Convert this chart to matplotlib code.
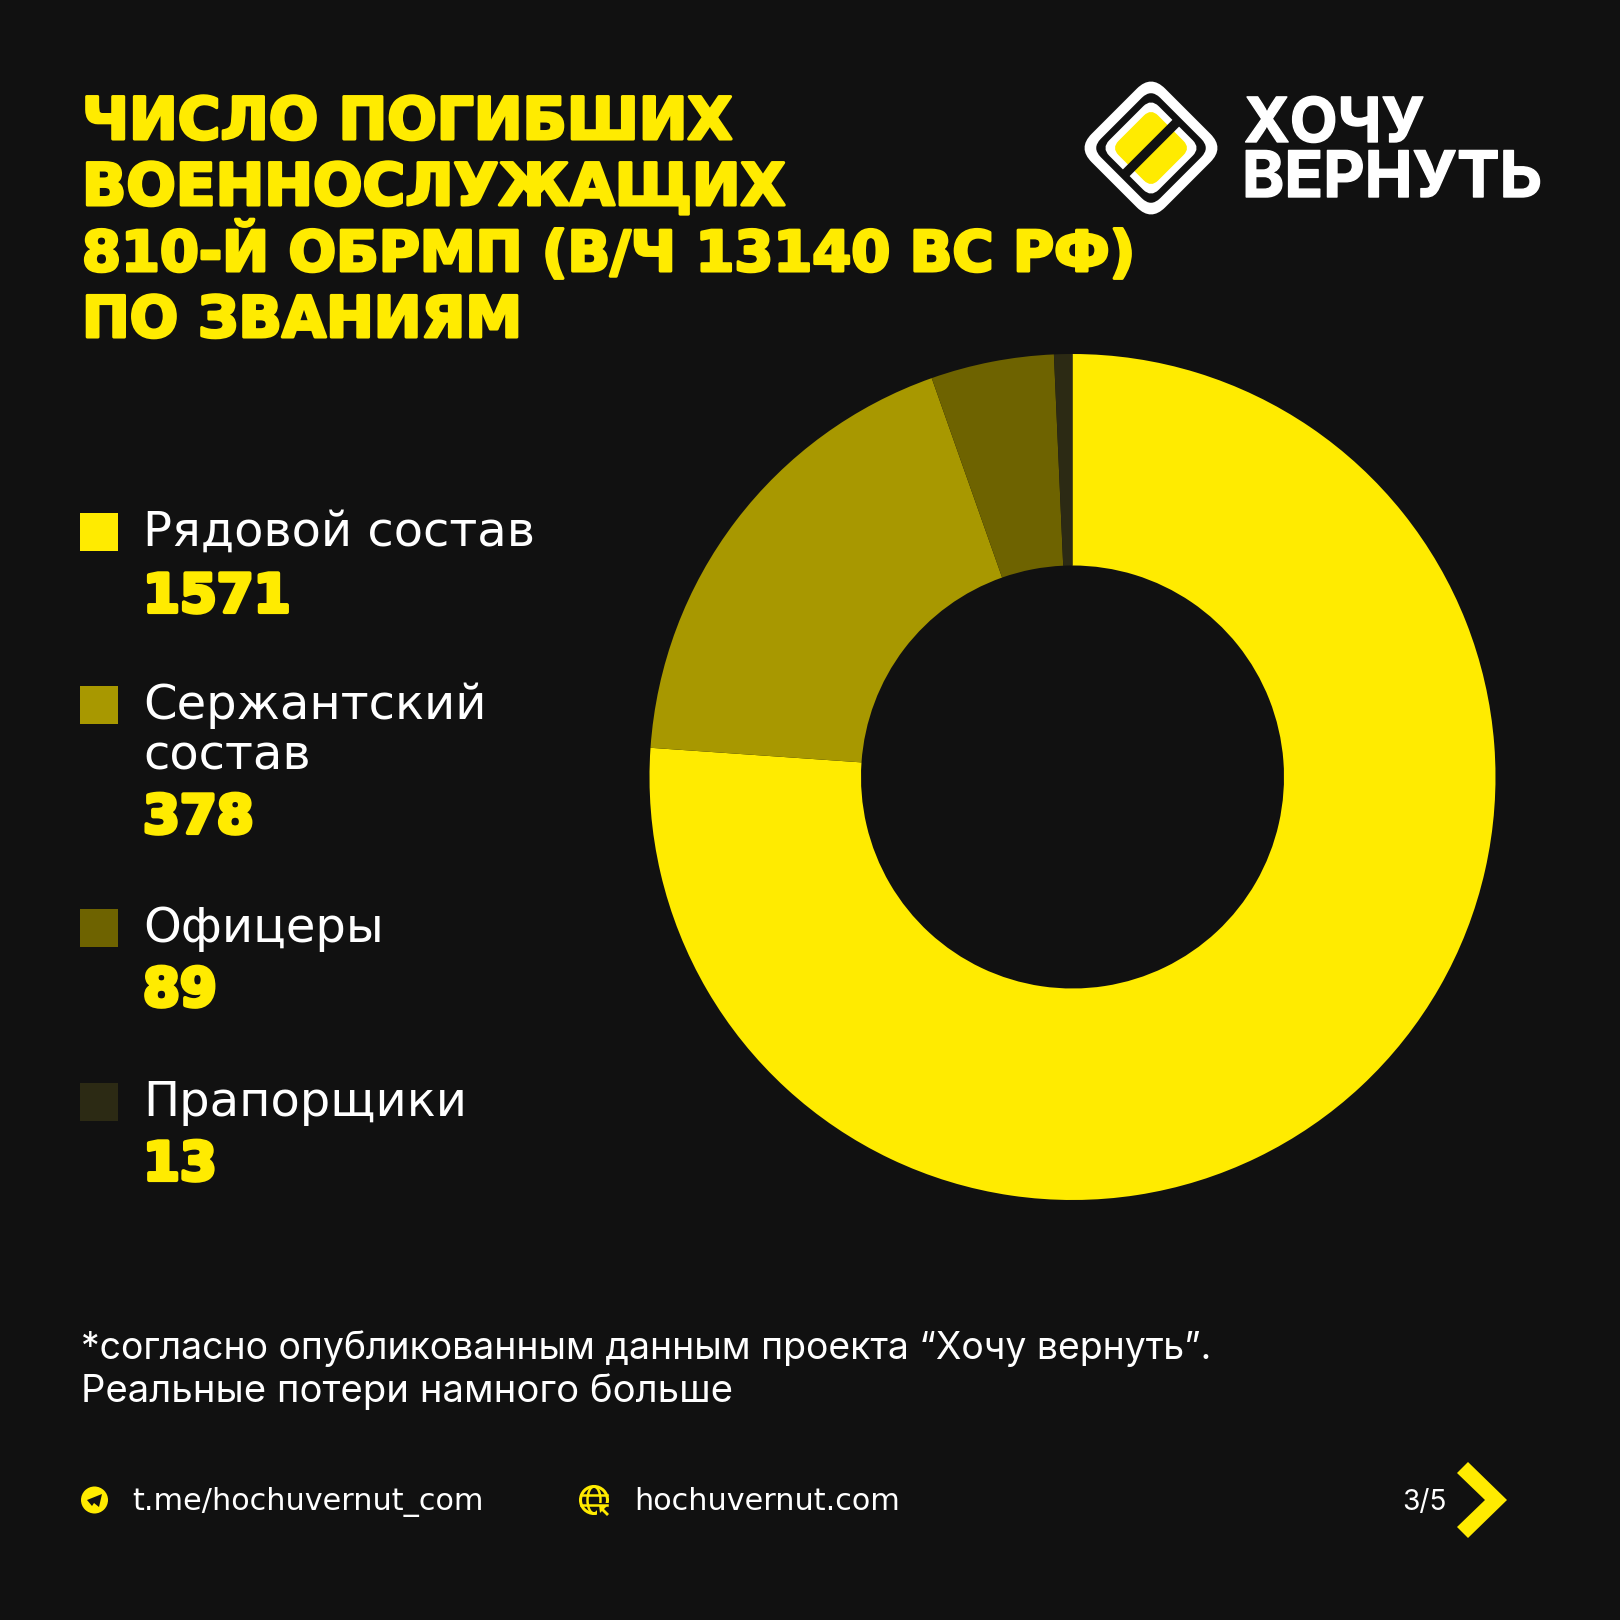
import matplotlib
matplotlib.use('Agg')
import matplotlib.pyplot as plt
import matplotlib.patheffects as pe
from matplotlib.patches import Rectangle, Circle, Ellipse, Polygon, FancyBboxPatch
from matplotlib.transforms import Affine2D

# dane
categories = ['Рядовой состав', 'Сержантский\nсостав', 'Офицеры', 'Прапорщики']
values = [1571, 378, 89, 13]
# udzialy odczytane z wycinkow na rysunku (nie sa dokladnie proporcjonalne do podpisow)
slice_shares = [76.1, 18.5, 4.7, 0.7]
slice_colors = ['#FFEB00', '#A89800', '#6E6300', '#2C2A14']
title_lines = ['ЧИСЛО ПОГИБШИХ', 'ВОЕННОСЛУЖАЩИХ', '810-Й ОБРМП (В/Ч 13140 ВС РФ)', 'ПО ЗВАНИЯМ']
note_lines = ['*согласно опубликованным данным проекта “Хочу вернуть”.', 'Реальные потери намного больше']

BG = '#111111'
YELLOW = '#FFEB00'
S = 1620

fig = plt.figure(figsize=(16.2, 16.2), dpi=100, facecolor=BG)

# donut
cx, cy, r = 1072.5, 777, 423
ax = fig.add_axes([(cx - r) / S, 1 - (cy + r) / S, 2 * r / S, 2 * r / S])
ax.pie(slice_shares, colors=slice_colors, startangle=90, counterclock=False,
       wedgeprops={'width': 0.5, 'linewidth': 0})
ax.set_xlim(-1, 1)
ax.set_ylim(-1, 1)

# warstwa w pikselach
ov = fig.add_axes([0, 0, 1, 1], facecolor='none')
ov.set_xlim(0, S)
ov.set_ylim(S, 0)
ov.axis('off')


def px(size):
    return size * 0.72


title_sizes = [58.2, 58.2, 56, 57]
for i, line in enumerate(title_lines):
    ov.text(82, 139 + i * 66, line, color=YELLOW, fontsize=px(title_sizes[i]), family='DejaVu Sans',
            fontweight='bold', va='baseline', ha='left',
            path_effects=[pe.withStroke(linewidth=2.2, foreground=YELLOW)])

# legenda
square_y = [513, 686, 909, 1083]
value_y = [612, 833, 1006, 1180]
for cat, val, col, sy, vy in zip(categories, values, slice_colors, square_y, value_y):
    ov.add_patch(Rectangle((80, sy), 38, 38, color=col, lw=0))
    for j, part in enumerate(cat.split('\n')):
        ov.text(143, sy + 33 + j * 50, part, color='white', fontsize=px(48), family='DejaVu Sans',
                va='baseline', ha='left')
    ov.text(143, vy, str(val), color=YELLOW, fontsize=px(53), family='DejaVu Sans',
            fontweight='bold', va='baseline', ha='left',
            path_effects=[pe.withStroke(linewidth=3, foreground=YELLOW)])

# przypis
note_sizes = [37.4, 38.3]
for i, line in enumerate(note_lines):
    ov.text(81, 1359 + i * 43, line, color='white', fontsize=px(note_sizes[i]), family='Inter',
            va='baseline', ha='left')

# stopka
ov.add_patch(Circle((94.5, 1500), 13.5, color=YELLOW, lw=0))
ov.add_patch(Polygon([(87, 1500), (102, 1494), (99, 1507), (94, 1503), (92, 1506)], color=BG, lw=0))
ov.text(132, 1510, 't.me/hochuvernut_com', color='white', fontsize=px(30.2), family='DejaVu Sans',
        va='baseline', ha='left')

gx, gy = 594, 1500
ov.add_patch(Circle((gx, gy), 13.5, fill=False, ec=YELLOW, lw=2.2))
ov.add_patch(Ellipse((gx, gy), 13, 27, fill=False, ec=YELLOW, lw=1.8))
ov.plot([gx - 13, gx + 13], [gy - 5, gy - 5], color=YELLOW, lw=1.8)
ov.plot([gx - 13, gx + 13], [gy + 5, gy + 5], color=YELLOW, lw=1.8)
ov.add_patch(Rectangle((gx + 3, gy + 3), 14, 14, color=BG, lw=0))
ov.add_patch(Polygon([(gx + 5, gy + 5), (gx + 13, gy + 6), (gx + 10, gy + 9), (gx + 15, gy + 14),
                      (gx + 13, gy + 16), (gx + 8, gy + 11), (gx + 6, gy + 13)], color=YELLOW, lw=0))
ov.text(634, 1510, 'hochuvernut.com', color='white', fontsize=px(30.2), family='DejaVu Sans',
        va='baseline', ha='left')

ov.text(1402, 1510, '3/5', color='white', fontsize=px(28), family='Inter', va='baseline', ha='left')
ov.add_patch(Polygon([(1468, 1462), (1507, 1500), (1468, 1538), (1457, 1527), (1485, 1500), (1457, 1473)],
                     color=YELLOW, lw=0))

# logo
lx, ly = 1151, 148
rot = Affine2D().rotate_deg_around(lx, ly, 45) + ov.transData


def rounded(half, rad, col):
    p = FancyBboxPatch((lx - half + rad, ly - half + rad), 2 * (half - rad), 2 * (half - rad),
                       boxstyle=f'round,pad={rad},rounding_size={rad}', fc=col, ec='none',
                       transform=rot)
    ov.add_patch(p)


rounded(52, 20, 'white')
rounded(42, 13, BG)
rounded(35, 11, 'white')
rounded(28, 10, YELLOW)
ov.plot([lx - 25.5, lx + 25.5], [ly + 25.5, ly - 25.5], color=BG, lw=6.8, solid_capstyle='butt')
stroke = [pe.withStroke(linewidth=1, foreground='white')]
ov.text(1244, 142, 'ХОЧУ', color='white', fontsize=px(62), family='Inter', fontweight='bold',
        va='baseline', ha='left', path_effects=stroke)
ov.text(1242, 197, 'ВЕРНУТЬ', color='white', fontsize=px(64), family='Inter', fontweight='bold',
        va='baseline', ha='left', path_effects=stroke)

fig.savefig('out.png', dpi=100, facecolor=BG)
